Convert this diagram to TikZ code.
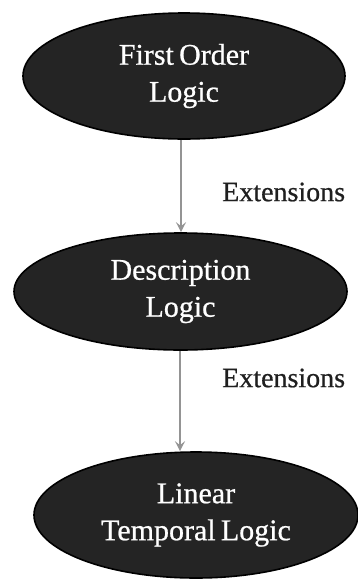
\documentclass[tikz,border=0pt]{standalone}
\usepackage{fontspec}
\setmainfont{Liberation Serif}
\newfontfamily\thickserif{Liberation Serif}[FakeBold=0.7,WordSpace=0.7]
\usetikzlibrary{shapes.geometric,arrows.meta}
\begin{document}
\begin{tikzpicture}[x=1pt,y=-1pt,
  logicnode/.style={ellipse,draw=black,line width=1.6pt,fill=black!86,
    text=white,inner sep=0pt,align=center,
    font=\thickserif\fontsize{30}{37}\selectfont},
  extarrow/.style={draw=black!42,line width=2pt,
    -{Stealth[length=10pt,width=10pt,inset=4pt]}},
  extlabel/.style={font=\thickserif\fontsize{28}{32}\selectfont,text=black!88,anchor=west,inner sep=0pt}]
  \useasboundingbox (0,0) rectangle (357,579);
  \node[logicnode,minimum width=322pt,minimum height=126pt] (fol) at (184,76) {First Order\\Logic};
  \node[logicnode,minimum width=333pt,minimum height=117pt] (dl) at (180.5,291.5) {Description\\Logic};
  \node[logicnode,minimum width=324pt,minimum height=126pt] (ltl) at (196,515) {Linear\\Temporal Logic};
  \draw[extarrow] (fol.south -| 181,0) -- (dl.north -| 181,0);
  \draw[extarrow] (dl.south -| 180,0) -- (ltl.north -| 180,0);
  \node[extlabel] (ext1) at (222,192) {Extensions};
  \node[extlabel] (ext2) at (222,378) {Extensions};
\end{tikzpicture}
\end{document}
